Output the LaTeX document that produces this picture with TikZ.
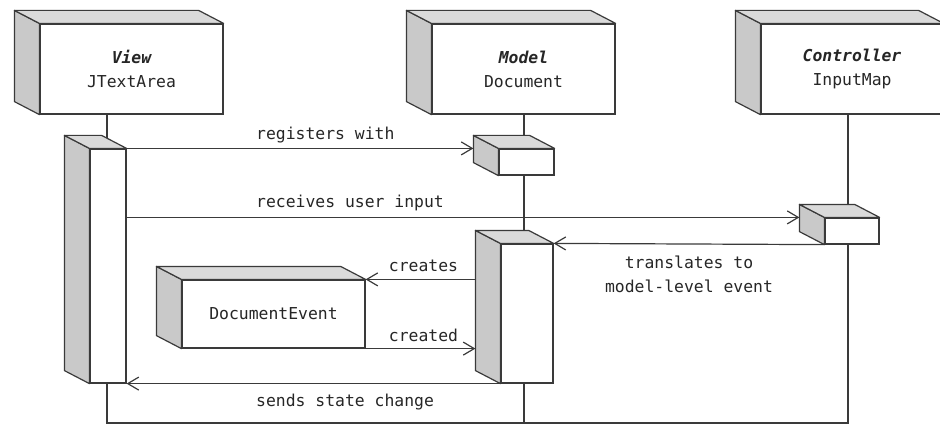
\documentclass[tikz,border=0pt]{standalone}
\usepackage{fontspec}
\setmonofont{DejaVu Sans Mono}
\usetikzlibrary{arrows.meta,calc}
\definecolor{ink}{HTML}{3A3A3A}
\definecolor{sidegray}{HTML}{C9C9C9}
\definecolor{topgray}{HTML}{DADADA}
\tikzset{
  every node/.style={font=\ttfamily\fontsize{16.4}{24}\selectfont, text=black!85},
  face/.style={draw=ink, line width=1.2pt, fill=white, inner sep=0pt, align=center},
  line/.style={draw=ink, line width=1.2pt},
  msg/.style={line, -{Straight Barb[length=11pt,width=13pt,line width=1.2pt]}},
  lbl/.style={inner sep=0pt},
  role/.style={font=\ttfamily\bfseries\itshape\fontsize{16.4}{24}\selectfont},
}
\begin{document}
\begin{tikzpicture}[x=1pt,y=-1pt]
\useasboundingbox (0,0) rectangle (940,425);
\clip (0,0) rectangle (940,425);

% lifelines, joined along the bottom edge
\coordinate (vbot) at (107,423);
\coordinate (mbot) at (524,423);
\coordinate (cbot) at (848,423);

% participant heads
\node[face, minimum width=183pt, minimum height=90pt] (view) at (131.5,69)
  {{\bfseries\itshape View}\\JTextArea};
\node[face, minimum width=183pt, minimum height=90pt] (model) at (523.5,69)
  {{\bfseries\itshape Model}\\Document};
\node[face, minimum width=182pt, minimum height=90pt] (ctrl) at (852,69)
  {{\bfseries\itshape Controller}\\InputMap};

\draw[line] (vbot |- view.south) -- (vbot) -- (cbot) -- (cbot |- ctrl.south);
\draw[line] (mbot) -- (mbot |- model.south);

% activation bars and the event object
\node[face, minimum width=36pt, minimum height=234pt] (viewact) at (108,266) {};
\node[face, minimum width=55pt, minimum height=26pt] (modelact1) at (526.5,162) {};
\node[face, minimum width=54pt, minimum height=26pt] (ctrlact) at (852,231) {};
\node[face, minimum width=52pt, minimum height=139pt] (modelact2) at (527,313.5) {};
\node[face, minimum width=183pt, minimum height=68pt] (docevent) at (273.5,314) {DocumentEvent};

% shaded depth faces (left side and top) of every box
\foreach \n in {view,model,ctrl,viewact,modelact1,ctrlact,modelact2,docevent}{
  \draw[line, fill=sidegray, line join=round]
    (\n.north west) -- ++(-25,-13) -- ($(\n.south west)+(-25,-13)$) -- (\n.south west) -- cycle;
  \draw[line, fill=topgray, line join=round]
    (\n.north west) -- ++(-25,-13) -- ($(\n.north east)+(-25,-13)$) -- (\n.north east) -- cycle;
}

% back edges used as arrow targets
\coordinate (m1back) at ($(modelact1.north west)+(-25,0)$);
\coordinate (cback)  at ($(ctrlact.north west)+(-25,0)$);
\coordinate (m2back) at ($(modelact2.north west)+(-25,0)$);

% messages
\draw[msg] (viewact.north east) -- (viewact.north east -| m1back);
\node[lbl, anchor=west] (lreg) at (256,135) {registers with};

\draw[msg] (cback -| viewact.east) -- (cback);
\node[lbl, anchor=west] (lrec) at (256,203) {receives user input};

\draw[msg] (ctrlact.south west) -- (modelact2.north east);
\node[lbl, align=center] (ltr) at (689,274) {translates to\\model-level event};

\draw[msg] (docevent.north east -| m2back) -- (docevent.north east);
\node[lbl] (lcre) at (423.5,266) {creates};

\draw[msg] (docevent.south east) -- (docevent.south east -| m2back);
\node[lbl] (lcrd) at (423.5,335) {created};

\draw[msg] (modelact2.south west) -- (viewact.south east);
\node[lbl, anchor=west] (lsend) at (256,402) {sends state change};
\end{tikzpicture}
\end{document}
